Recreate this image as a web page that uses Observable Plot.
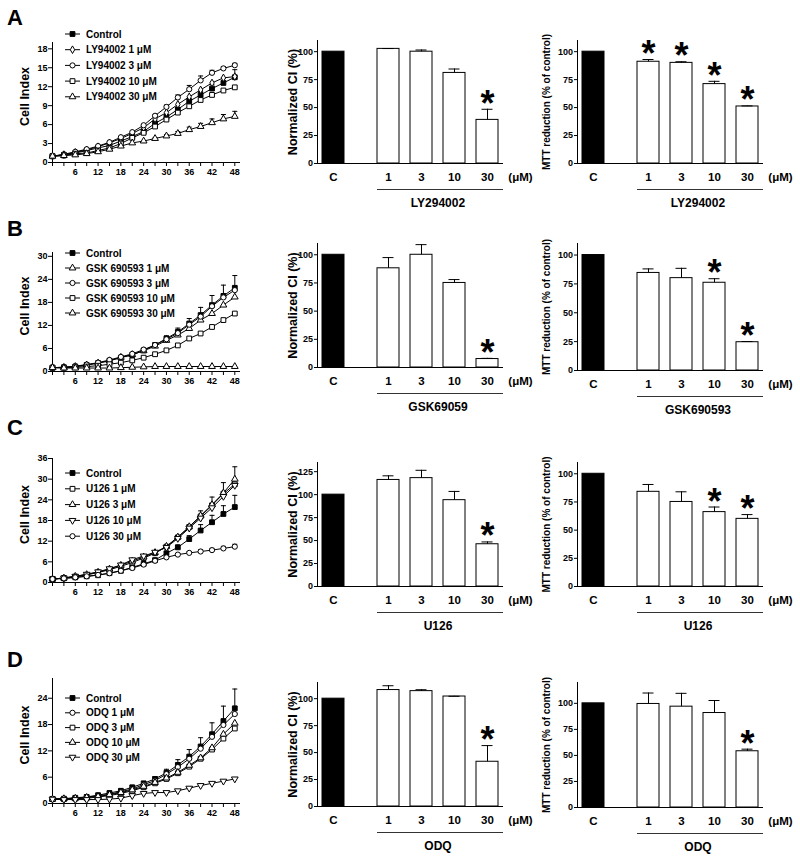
<!DOCTYPE html>
<html><head><meta charset="utf-8">
<script src="https://cdn.jsdelivr.net/npm/d3@7"></script>
<script src="https://cdn.jsdelivr.net/npm/@observablehq/plot@0.6"></script>
<style>
body{margin:0;background:#fff;}
#fig{position:relative;width:800px;height:860px;overflow:hidden;background:#fff;}
</style></head><body><div id="fig"></div><script>
// ---------- DATA ----------
const hours = [0,3,6,9,12,15,18,21,24,27,30,33,36,39,42,45,48];

// A – LY94002 real-time cell index
const lyNames = ["Control","LY94002 1 μM","LY94002 3 μM","LY94002 10 μM","LY94002 30 μM"];
const lyControl = [1.0,1.2,1.5,1.9,2.3,2.7,3.4,4.1,4.9,6.2,7.2,8.4,9.7,10.7,11.7,12.6,13.5];
const lyControlErr = [0,0.05,0.1,0.1,0.1,0.15,0.2,0.2,0.2,0.3,0.3,0.3,0.4,0.5,0.6,0.8,1.2];
const ly1 = [1.0,1.25,1.6,2.0,2.5,3.1,3.8,4.6,5.5,6.9,7.9,9.2,10.4,11.5,12.6,13.4,13.6];
const ly3 = [1.0,1.3,1.7,2.1,2.6,3.2,4.0,4.8,5.9,7.4,8.8,10.3,11.6,13.0,14.2,14.9,15.4];
const ly3Err = [0,0,0,0,0,0,0,0,0.1,0.2,0.3,0.4,0.6,0.7,0.4,0.3,0.3];
const ly10 = [1.0,1.1,1.4,1.5,1.9,2.3,3.0,3.9,4.7,5.7,6.8,7.9,8.9,9.9,10.7,11.4,11.9];
const ly30 = [1.0,1.1,1.2,1.4,1.7,2.1,2.6,3.1,3.4,3.8,4.2,4.6,5.2,5.7,6.3,6.9,7.3];
const ly30Err = [0,0,0,0,0,0,0,0,0,0.1,0.2,0.3,0.4,0.5,0.6,0.7,0.8];

// B – GSK 690593
const gskNames = ["Control","GSK 690593 1 μM","GSK 690593 3 μM","GSK 690593 10 μM","GSK 690593 30 μM"];
const gskControl = [1.0,1.1,1.3,1.7,2.2,2.8,3.6,4.3,5.5,6.9,8.6,10.3,12.5,14.7,17.3,19.7,21.8];
const gskControlErr = [0,0.1,0.1,0.1,0.2,0.2,0.3,0.3,0.4,0.5,0.7,1.0,1.3,2.0,2.5,2.8,3.2];
const gsk1 = [1.0,1.1,1.3,1.7,2.2,2.8,3.7,4.4,5.4,6.6,8.1,9.5,11.2,13.4,15.1,17.3,19.4];
const gsk3 = [1.0,1.1,1.4,1.8,2.3,3.0,3.8,4.6,5.7,6.9,8.4,10.0,12.2,14.3,17.0,19.3,21.2];
const gsk10 = [1.0,1.0,1.1,1.3,1.5,1.9,2.3,2.9,3.6,4.5,5.5,6.8,8.6,9.9,11.6,13.4,15.1];
const gsk30 = [1.0,0.9,0.9,0.9,0.9,0.9,1.0,1.1,1.2,1.3,1.3,1.3,1.3,1.3,1.3,1.3,1.3];

// C – U126
const uNames = ["Control","U126 1 μM","U126 3 μM","U126 10 μM","U126 30 μM"];
const uControl = [1.0,1.2,1.5,1.8,2.1,2.7,3.4,4.4,5.4,6.5,8.5,10.2,12.6,15.1,17.5,19.9,21.9];
const uControlErr = [0,0.1,0.1,0.1,0.1,0.2,0.2,0.2,0.3,0.4,0.5,0.7,1.0,1.7,2.0,2.4,3.4];
const u1 = [1.0,1.3,1.7,2.2,2.9,3.7,4.7,5.8,7.1,8.5,10.4,13.1,16.1,19.2,22.4,25.8,28.5];
const u3 = [1.0,1.3,1.8,2.3,3.0,3.9,5.0,6.2,7.4,8.7,10.5,13.2,16.2,19.4,22.6,26.0,30.0];
const u3Err = [0,0,0,0,0,0,0,0,0,0,0.2,0.3,0.5,1.4,2.2,3.0,3.6];
const u10 = [1.0,1.3,1.8,2.4,3.1,4.0,5.1,6.6,7.7,8.8,10.2,12.8,15.8,18.7,21.7,25.0,28.2];
const u30 = [1.0,1.2,1.5,1.8,2.2,2.7,3.4,4.2,5.2,6.3,7.3,8.1,8.6,9.0,9.4,9.9,10.4];
const u30Err = [0,0,0,0,0,0,0,0,0,0,0.2,0.3,0.4,0.5,0.5,0.6,0.7];

// D – ODQ
const odqNames = ["Control","ODQ 1 μM","ODQ 3 μM","ODQ 10 μM","ODQ 30 μM"];
const odqControl = [1.0,1.1,1.3,1.5,1.9,2.4,2.9,3.7,4.6,5.6,7.0,8.8,10.7,13.0,15.8,18.8,21.7];
const odqControlErr = [0,0.1,0.1,0.1,0.2,0.2,0.3,0.3,0.4,0.5,0.8,1.2,1.6,2.0,2.6,3.4,4.4];
const odq1 = [1.0,1.1,1.2,1.4,1.8,2.1,2.7,3.3,4.3,5.2,6.7,8.3,10.2,12.5,15.2,17.9,20.4];
const odq3 = [1.0,1.0,1.1,1.2,1.5,1.8,2.3,2.9,3.7,4.6,5.6,6.9,8.4,10.2,12.3,14.8,17.1];
const odq10 = [1.0,1.1,1.2,1.4,1.6,2.0,2.5,3.1,3.9,4.8,5.8,7.1,8.7,10.4,12.7,15.8,18.3];
const odq30 = [1.0,0.9,0.9,0.9,0.9,1.0,1.2,1.8,2.3,2.5,2.5,2.9,3.5,4.1,4.6,5.1,5.6];

// Bar charts
const doses = ["C","1","3","10","30"];
const lyCI = [100,102.5,100,81,39];      const lyCIerr = [0,0.3,1.5,3.5,9.5];   const lyCIsig = [0,0,0,0,1];
const lyMTT = [100,91,90,71,51];        const lyMTTerr = [0,2,1,2.5,0.5];      const lyMTTsig = [0,1,1,1,1];
const gskCI = [100,88,100,75,7.5];      const gskCIerr = [0,9.5,9,3,0.6];      const gskCIsig = [0,0,0,0,1];
const gskMTT = [100,84.5,80,76,24.5];   const gskMTTerr = [0,3.5,8.5,3.5,0.6]; const gskMTTsig = [0,0,0,1,1];
const uCI = [100,116,118,94,46];        const uCIerr = [0,4.5,8.5,9.5,2.5];    const uCIsig = [0,0,0,0,1];
const uMTT = [100,84,75,66,60];         const uMTTerr = [0,6.5,9,4.5,3.8];     const uMTTsig = [0,0,0,1,1];
const odqCI = [100,108,107,102,41.5];   const odqCIerr = [0,4,1.3,0.2,15];     const odqCIsig = [0,0,0,0,1];
const odqMTT = [100,99.4,96.8,90.7,54]; const odqMTTerr = [0,10.5,12.8,12,2];  const odqMTTsig = [0,0,0,0,1];

// ---------- RENDER ----------
const FONT = "'Liberation Sans', Arial, Helvetica, sans-serif";
const fig = document.getElementById("fig");
function place(el, left, top){ el.style.position="absolute"; el.style.left=left+"px"; el.style.top=top+"px"; fig.appendChild(el); }

const s3 = Math.sqrt(3);
const invTri = {draw(ctx,size){ const y=-Math.sqrt(size/(s3*3)); ctx.moveTo(0,-2*y); ctx.lineTo(-s3*y,y); ctx.lineTo(s3*y,y); ctx.closePath(); }};
const capSym = {draw(ctx){ ctx.moveTo(-2.5,0); ctx.lineTo(2.5,0); }};
const SYM = {
  square: {type: d3.symbolSquare, r: 2.7},
  circle: {type: d3.symbolCircle, r: 2.6},
  triangle: {type: d3.symbolTriangle, r: 2.5},
  diamond: {type: d3.symbolDiamond, r: 2.3},
  invtri: {type: invTri, r: 2.5}
};

function lineChart({names, values, errs, markers, yMax, yTicks, zero, top}){
  const svgTop = top - 12;
  const marks = [Plot.ruleX([0], {stroke:"black"}), Plot.ruleY([0], {stroke:"black"})];
  values.forEach(v => {
    marks.push(Plot.line(hours.map((h,i)=>({h, v:v[i]})), {x:"h", y:"v", stroke:"black", strokeWidth:1}));
  });
  values.forEach((v,k) => {
    if (!errs[k]) return;
    const ep = hours.map((h,i)=>({h, v:v[i], e:errs[k][i]})).filter(d=>d.e>0.05);
    marks.push(Plot.ruleX(ep, {x:"h", y1:"v", y2:d=>d.v+d.e, stroke:"black", strokeWidth:1}));
    marks.push(Plot.dot(ep, {x:"h", y:d=>d.v+d.e, symbol:capSym, r:3, fill:"none", stroke:"black", strokeWidth:1}));
  });
  values.forEach((v,k) => {
    const m = markers[k];
    marks.push(Plot.dot(hours.map((h,i)=>({h, v:v[i]})), {x:"h", y:"v", symbol:SYM[m.s].type, r:SYM[m.s].r,
      fill:m.f, stroke:"black", strokeWidth:1}));
  });
  marks.push(Plot.text(["Cell Index"], {frameAnchor:"left", rotate:-90, dx:-28, dy:-6, textAnchor:"middle",
    fontSize:12.5, fontWeight:"bold", fill:"black"}));
  const p = Plot.plot({
    width:250, height: zero - svgTop + 30, marginLeft:52, marginRight:10, marginTop:12, marginBottom:30,
    x:{domain:[0,49.5], ticks:hours, tickFormat:d=> (d>0 && d%6===0) ? String(d) : "", tickSize:4, tickPadding:2, label:null},
    y:{domain:[0,yMax], ticks:yTicks, tickSize:4, tickPadding:1, label:null},
    style:{fontFamily:FONT, fontSize:"9px", fontWeight:"bold", background:"transparent", overflow:"visible", color:"black"},
    marks
  });
  place(p, 0, svgTop);
}

function barChart({values, err, sig, yMax, yTicks, ylabel, ylabelSize, ylabelDx, group, left, axisLeft, zero, top}){
  const slot = i => i===0 ? 0 : i + 2/3;
  const rows = doses.map((d,i)=>({d, i, x:slot(i), v:values[i], e:err[i], s:sig[i]}));
  const xmin = -16/33, xmax = xmin + 186/33;
  const svgTop = top - 10;
  const eb = rows.filter(r=>r.e>0);
  const marks = [
    Plot.rect(rows.filter(r=>r.i===0), {x1:d=>d.x-1/3, x2:d=>d.x+1/3, y1:0, y2:"v", fill:"black", stroke:"black", strokeWidth:1}),
    Plot.rect(rows.filter(r=>r.i>0), {x1:d=>d.x-1/3, x2:d=>d.x+1/3, y1:0, y2:"v", fill:"white", stroke:"black", strokeWidth:1}),
    Plot.ruleX(eb, {x:"x", y1:"v", y2:d=>d.v+d.e, stroke:"black", strokeWidth:1}),
    Plot.ruleY(eb, {y:d=>d.v+d.e, x1:d=>d.x-1/6, x2:d=>d.x+1/6, stroke:"black", strokeWidth:1}),
    Plot.text(rows.filter(r=>r.s), {x:"x", y:d=>d.v+d.e, text:()=>"*", fontSize:36, fontWeight:"bold", lineAnchor:"middle", dy:-5, fill:"black"}),
    Plot.ruleX([xmin], {stroke:"black"}),
    Plot.ruleY([0], {stroke:"black"}),
    Plot.text(rows, {x:"x", y:0, text:"d", dy:14, fontSize:11.5, fontWeight:"bold", lineAnchor:"middle", fill:"black"}),
    Plot.text(["(μM)"], {x:slot(doses.length), y:0, dy:14, fontSize:11.5, fontWeight:"bold", lineAnchor:"middle", fill:"black"}),
    Plot.ruleY([0], {x1:slot(1)-1/3, x2:xmax, dy:26, stroke:"#333", strokeWidth:1}),
    Plot.text([group], {x:(slot(1)+slot(4))/2, y:0, dy:40, fontSize:12, fontWeight:"bold", lineAnchor:"middle", fill:"black"}),
    Plot.text([ylabel], {frameAnchor:"left", rotate:-90, dx:ylabelDx, textAnchor:"middle", fontSize:ylabelSize, fontWeight:"bold", fill:"black"})
  ];
  const p = Plot.plot({
    width:270, height: zero - svgTop + 57, marginLeft: axisLeft-left, marginRight: 270-(axisLeft-left)-186, marginTop:10, marginBottom:57,
    x:{domain:[xmin,xmax], axis:null},
    y:{domain:[0,yMax], ticks:yTicks, tickSize:3, tickPadding:1.5, label:null},
    style:{fontFamily:FONT, fontSize:"9px", fontWeight:"bold", background:"transparent", overflow:"visible", color:"black"},
    marks
  });
  place(p, left, svgTop);
}

const sq = {s:"square", f:"black"};
lineChart({names:lyNames, values:[lyControl,ly1,ly3,ly10,ly30], errs:[lyControlErr,null,ly3Err,null,ly30Err],
  markers:[sq,{s:"diamond",f:"white"},{s:"circle",f:"white"},{s:"square",f:"white"},{s:"triangle",f:"white"}],
  yMax:19, yTicks:[0,3,6,9,12,15,18], zero:162, top:42});
lineChart({names:gskNames, values:[gskControl,gsk1,gsk3,gsk10,gsk30], errs:[gskControlErr,null,null,null,null],
  markers:[sq,{s:"triangle",f:"white"},{s:"circle",f:"white"},{s:"square",f:"white"},{s:"triangle",f:"white"}],
  yMax:31, yTicks:[0,6,12,18,24,30], zero:371, top:252});
lineChart({names:uNames, values:[uControl,u1,u3,u10,u30], errs:[uControlErr,null,u3Err,null,u30Err],
  markers:[sq,{s:"square",f:"white"},{s:"triangle",f:"white"},{s:"invtri",f:"white"},{s:"circle",f:"white"}],
  yMax:36, yTicks:[0,6,12,18,24,30,36], zero:582, top:458});
lineChart({names:odqNames, values:[odqControl,odq1,odq3,odq10,odq30], errs:[odqControlErr,null,null,null,null],
  markers:[sq,{s:"circle",f:"white"},{s:"square",f:"white"},{s:"triangle",f:"white"},{s:"invtri",f:"white"}],
  yMax:28.5, yTicks:[0,6,12,18,24], zero:803, top:678});

const CI = "Normalized CI (%)", MTT = "MTT reduction (% of control)";
const t5 = [0,25,50,75,100];
barChart({values:lyCI, err:lyCIerr, sig:lyCIsig, yMax:110, yTicks:t5, ylabel:CI, ylabelSize:12.5, ylabelDx:-25, group:"LY294002", left:260, axisLeft:317, zero:163, top:40});
barChart({values:lyMTT, err:lyMTTerr, sig:lyMTTsig, yMax:110, yTicks:t5, ylabel:MTT, ylabelSize:10, ylabelDx:-31, group:"LY294002", left:530, axisLeft:577, zero:163, top:40});
barChart({values:gskCI, err:gskCIerr, sig:gskCIsig, yMax:110, yTicks:t5, ylabel:CI, ylabelSize:12.5, ylabelDx:-25, group:"GSK69059", left:260, axisLeft:317, zero:367, top:243});
barChart({values:gskMTT, err:gskMTTerr, sig:gskMTTsig, yMax:110, yTicks:t5, ylabel:MTT, ylabelSize:10, ylabelDx:-31, group:"GSK690593", left:530, axisLeft:577, zero:370, top:243});
barChart({values:uCI, err:uCIerr, sig:uCIsig, yMax:135, yTicks:[0,25,50,75,100,125], ylabel:CI, ylabelSize:12.5, ylabelDx:-25, group:"U126", left:260, axisLeft:317, zero:586, top:462});
barChart({values:uMTT, err:uMTTerr, sig:uMTTsig, yMax:110, yTicks:t5, ylabel:MTT, ylabelSize:10, ylabelDx:-31, group:"U126", left:530, axisLeft:577, zero:586, top:462});
barChart({values:odqCI, err:odqCIerr, sig:odqCIsig, yMax:115, yTicks:t5, ylabel:CI, ylabelSize:12.5, ylabelDx:-25, group:"ODQ", left:260, axisLeft:317, zero:806, top:682});
barChart({values:odqMTT, err:odqMTTerr, sig:odqMTTsig, yMax:120, yTicks:t5, ylabel:MTT, ylabelSize:10, ylabelDx:-31, group:"ODQ", left:530, axisLeft:577, zero:807, top:682});

// ---------- overlay: panel letters & legends ----------
const ov = d3.create("svg").attr("width",800).attr("height",860)
  .style("position","absolute").style("left","0px").style("top","0px").style("pointer-events","none")
  .style("font-family",FONT).style("font-weight","bold");
[["A",25],["B",236],["C",435],["D",667]].forEach(([t,y])=>
  ov.append("text").attr("x",7).attr("y",y).attr("font-size",22).attr("fill","black").text(t));

function legend(names, markers, y0, step){
  names.forEach((n,i)=>{
    const y = y0 + i*step, m = markers[i];
    ov.append("line").attr("x1",65).attr("x2",80).attr("y1",y).attr("y2",y).attr("stroke","black");
    ov.append("path").attr("d", d3.symbol(SYM[m.s].type, Math.PI*SYM[m.s].r**2)())
      .attr("transform",`translate(72.5,${y})`).attr("fill",m.f).attr("stroke","black");
    ov.append("text").attr("x",86).attr("y",y).attr("dy","0.36em").attr("font-size",10).attr("fill","black").text(n);
  });
}
legend(lyNames, [sq,{s:"diamond",f:"white"},{s:"circle",f:"white"},{s:"square",f:"white"},{s:"triangle",f:"white"}], 34, 15.7);
legend(gskNames, [sq,{s:"triangle",f:"white"},{s:"circle",f:"white"},{s:"square",f:"white"},{s:"triangle",f:"white"}], 253, 15);
legend(uNames, [sq,{s:"square",f:"white"},{s:"triangle",f:"white"},{s:"invtri",f:"white"},{s:"circle",f:"white"}], 473, 15.8);
legend(odqNames, [sq,{s:"circle",f:"white"},{s:"square",f:"white"},{s:"triangle",f:"white"},{s:"invtri",f:"white"}], 698, 14.8);
fig.appendChild(ov.node());
</script></body></html>
